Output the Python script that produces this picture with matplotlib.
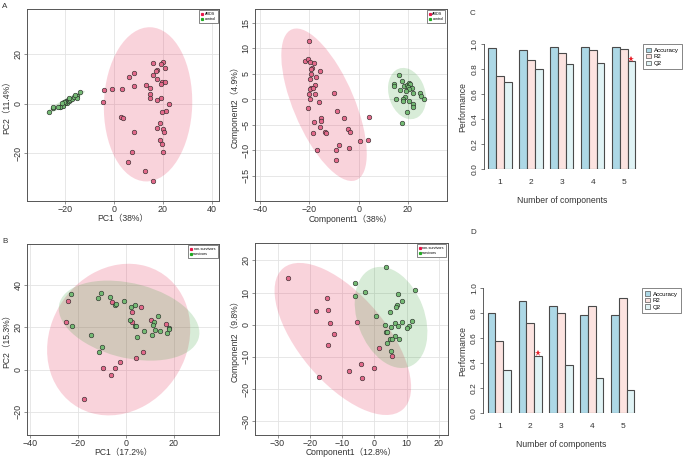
import matplotlib
matplotlib.use('Agg')
import matplotlib.pyplot as plt
from matplotlib.patches import Ellipse, Patch
from matplotlib.lines import Line2D
import numpy as np

plt.rcParams['font.family'] = ['Liberation Sans', 'Noto Sans CJK SC']

# ---- panel A: PCA ARDS vs control
ards_pca_x = [15.9, 19.9, 19.2, 21.0, 17.6, 17.3, 16.1, 17.4, 8.3, 6.3, 19.6, 21.0, 19.3, 13.1, 8.2,
              14.6, -4.2, -1.0, 3.1, 14.8, 14.8, 19.3, 17.7, -4.4, 22.3, 21.1, 19.7, 3.0, 3.7, 18.8,
              17.6, 20.0, 20.3, 8.3, 18.8, 19.5, 20.0, 7.2, 5.6, 12.7, 16.1]
ards_pca_y = [16.4, 17.0, 16.0, 14.3, 13.6, 13.3, 11.7, 10.0, 12.4, 10.8, 9.0, 8.8, 8.0, 7.7, 7.3,
              6.5, 5.5, 5.9, 5.9, 3.9, 2.3, 2.3, 1.6, 0.8, -0.1, -2.8, -3.2, -5.3, -5.5, -7.8,
              -9.7, -10.2, -11.2, -11.2, -14.6, -16.3, -19.5, -19.4, -23.6, -27.0, -31.1]
ctrl_pca_x = [-26.8, -25.0, -24.8, -22.0, -21.4, -20.7, -20.0, -19.6, -19.3, -18.9, -18.4, -18.0, -20.1,
              -21.0, -22.3, -17.3, -16.3, -15.2, -15.2, -14.1, -15.8, -18.6, -20.4, -21.4, -23.1]
ctrl_pca_y = [-3.4, -1.8, -1.1, -1.1, -0.8, -0.4, 0.9, 1.3, 0.3, 1.6, 1.2, 1.6, 0.3,
              -0.8, -1.3, 1.9, 2.7, 3.0, 2.2, 4.6, 3.6, 2.3, 0.9, 0.3, -1.1]

# ---- panel A right: PLS-DA ARDS vs control
ards_pls_x = [-20.3, -21.8, -20.7, -19.8, -18.3, -19.1, -19.5, -15.6, -19.2, -17.2, -19.8, -17.6, -19.2,
              -19.9, -18.7, -20.1, -17.9, -10.0, -19.8, -16.3, -20.5, -8.7, -15.2, -15.4, -18.0, -6.1,
              4.1, -15.7, -4.2, -3.5, -13.6, -13.1, -18.6, 0.4, 3.8, -8.0, -3.8, -9.2, -17.1, -9.2]
ards_pls_y = [11.5, 7.5, 7.8, 7.3, 7.0, 6.2, 6.0, 5.6, 4.9, 4.4, 3.9, 2.7, 2.2,
              2.0, 2.1, 1.1, 1.0, 1.2, 0.1, -0.5, -1.8, -2.3, -3.7, -4.3, -4.4, -3.8,
              -3.6, -5.4, -5.8, -6.5, -6.5, -6.6, -6.7, -8.3, -8.0, -9.0, -9.6, -9.9, -9.9, -11.9]
ctrl_pls_x = [16.4, 17.6, 14.2, 14.4, 18.4, 19.5, 20.5, 20.9, 20.2, 21.5, 20.6, 22.2, 19.1,
              18.9, 17.9, 15.3, 17.9, 20.3, 21.9, 22.2, 25.1, 25.4, 26.7, 19.6, 17.8, 16.8]
ctrl_pls_y = [4.7, 3.5, 2.9, 2.6, 2.6, 2.7, 3.1, 3.0, 2.4, 2.2, 1.9, 1.2, 1.6,
              0.5, 0.1, 0.1, -0.4, -0.3, -0.9, -1.5, 1.2, 0.7, 0.0, -2.6, -4.6, 1.8]

# ---- panel B: PCA non-survivors vs survivors
nons_pca_x = [-24.2, -24.8, -5.8, 2.6, 6.1, 2.6, 10.5, 16.7, 7.3, 4.1, -2.4, -4.6, -9.5, -6.2, -17.4]
nons_pca_y = [32.5, 22.6, 32.0, 27.0, 29.4, 22.6, 23.2, 21.7, 8.2, 5.3, 3.5, 0.6, 0.5, -2.4, -14.1]
surv_pca_x = [-22.7, -22.5, -10.4, -11.5, -6.5, -4.7, -4.0, -0.6, 2.2, 3.7, 1.8, 3.9, 4.3, 7.6,
              4.8, 11.5, 11.2, 13.4, 11.9, 14.2, 10.8, 17.0, 18.1, 18.1, -14.4, -10.1, -11.2]
surv_pca_y = [35.6, 20.6, 36.1, 33.9, 34.5, 30.5, 30.9, 32.2, 29.5, 30.3, 23.2, 20.6, 20.4, 18.1,
              15.2, 22.6, 21.2, 25.1, 18.7, 18.1, 16.5, 17.1, 19.8, 19.0, 16.2, 10.5, 8.3]

# ---- panel B right: PLS-DA non-survivors vs survivors
nons_pls_x = [-26.7, -14.8, -18.2, -14.5, -13.7, -5.5, -12.5, -14.3, 1.3, 5.6, -17.3, -8.0, -4.1, -3.7, -0.1]
nons_pls_y = [14.6, 8.2, 4.3, 4.6, 0.4, 0.7, -2.8, -6.3, -7.2, -9.8, -16.4, -14.4, -12.2, -16.6, -13.6]
surv_pls_x = [3.5, -6.0, 12.7, -2.9, -6.0, 7.2, 8.7, 6.9, 6.7, 4.9, 0.4, 11.8, 8.5, 6.3,
              3.3, 7.2, 5.1, 10.8, 10.1, 3.6, 3.9, 6.3, 4.9, 5.6, 7.5, 3.8, 5.2]
surv_pls_y = [18.0, 12.9, 10.7, 10.3, 9.0, 9.4, 7.4, 6.1, 5.5, 4.1, 2.7, 1.2, 0.8, 0.6,
              -0.1, -0.3, -0.6, -0.4, -0.9, -2.3, -2.2, -3.6, -4.3, -4.6, -4.5, -5.7, -8.1]

# ---- panels C / D: performance
n_comp = [1, 2, 3, 4, 5]
acc_c = [0.968, 0.955, 0.976, 0.976, 0.976]
r2_c = [0.744, 0.877, 0.928, 0.952, 0.965]
q2_c = [0.701, 0.805, 0.840, 0.848, 0.864]
best_c = 5
acc_d = [0.798, 0.899, 0.859, 0.782, 0.782]
r2_d = [0.574, 0.723, 0.798, 0.856, 0.918]
q2_d = [0.343, 0.460, 0.383, 0.282, 0.184]
best_d = 2

RED_PT, GREEN_PT = '#E2698A', '#74BA74'
RED_EL, GREEN_EL = '#E8385F', '#3CA03C'
RED_LG, GREEN_LG = '#E8174A', '#22AA22'


def conf_ellipse(ax, x, y, color, alpha):
    x = np.asarray(x)
    y = np.asarray(y)
    vals, vecs = np.linalg.eigh(np.cov(x, y))
    vals, vecs = vals[::-1], vecs[:, ::-1]
    ang = np.degrees(np.arctan2(vecs[1, 0], vecs[0, 0]))
    r = np.sqrt(5.991)
    ax.add_patch(Ellipse((x.mean(), y.mean()), 2 * r * np.sqrt(vals[0]), 2 * r * np.sqrt(vals[1]),
                         angle=ang, facecolor=color, alpha=alpha, edgecolor='none', zorder=1))


def scatter_panel(ax, g1, g2, names, xlabel, ylabel, xlim, ylim, xticks, yticks):
    conf_ellipse(ax, g1[0], g1[1], RED_EL, 0.22)
    conf_ellipse(ax, g2[0], g2[1], GREEN_EL, 0.2)
    ax.scatter(g1[0], g1[1], s=11, facecolor=RED_PT, edgecolor='#222', lw=0.4, zorder=3)
    ax.scatter(g2[0], g2[1], s=11, facecolor=GREEN_PT, edgecolor='#222', lw=0.4, zorder=3)
    ax.set_xlim(xlim)
    ax.set_ylim(ylim)
    ax.set_xticks(xticks)
    ax.set_yticks(yticks)
    ax.grid(True, color='#E3E3E3', lw=0.6)
    ax.set_axisbelow(True)
    for s in ax.spines.values():
        s.set_color('#555')
        s.set_linewidth(0.7)
    ax.tick_params(length=2, width=0.5, color='#666', labelsize=6.4, labelcolor='#333', pad=1.2)
    for t in ax.get_yticklabels():
        t.set_rotation(90)
        t.set_va('center')
    ax.set_xlabel(xlabel, fontsize=6.2, color='#333', labelpad=0)
    ax.set_ylabel(ylabel, fontsize=6.2, color='#333', labelpad=1.5)
    hs = [Line2D([], [], marker='s', ls='', color=RED_LG, markersize=1.3, label=names[0]),
          Line2D([], [], marker='s', ls='', color=GREEN_LG, markersize=1.3, label=names[1])]
    lg = ax.legend(handles=hs, loc='upper right', fontsize=2.7, fancybox=False, edgecolor='#555',
                   framealpha=1, borderpad=0.5, handletextpad=0.3, handlelength=0.6,
                   borderaxespad=0.35, labelspacing=0.3)
    lg.get_frame().set_linewidth(0.5)


def perf_panel(ax, acc, r2, q2, best):
    pos = 2.5 + 4 * (np.asarray(n_comp) - 1)
    kw = dict(width=1, edgecolor='#4a4a4a', lw=0.8)
    ax.bar(pos - 1, acc, color='#ADD8E6', **kw)
    ax.bar(pos, r2, color='#FCE3E0', **kw)
    ax.bar(pos + 1, q2, color='#E0F3F5', **kw)
    i = n_comp.index(best)
    ax.plot(pos[i] + 1, q2[i] + 0.02, marker='*', color='#E8202A', ms=4.5, mew=0, clip_on=False)
    ax.set_xlim(0.4, 20.6)
    ax.set_ylim(0, 1)
    for s in ['top', 'right', 'bottom']:
        ax.spines[s].set_visible(False)
    ax.spines['left'].set_color('#444')
    ax.spines['left'].set_linewidth(0.6)
    ax.spines['left'].set_bounds(0, 1)
    ax.set_yticks(np.arange(0, 1.01, 0.2))
    ax.set_yticklabels([f'{v:.1f}' for v in np.arange(0, 1.01, 0.2)])
    ax.set_xticks(pos)
    ax.set_xticklabels([str(n) for n in n_comp])
    ax.tick_params(axis='y', length=2.5, width=0.5, color='#444', labelsize=6, labelcolor='#333', pad=1.2)
    ax.tick_params(axis='x', length=0, labelsize=6, labelcolor='#333', pad=7)
    for t in ax.get_yticklabels():
        t.set_rotation(90)
        t.set_va('center')
    ax.set_xlabel('Number of components', fontsize=6.2, color='#333', labelpad=7)
    ax.set_ylabel('Performance', fontsize=6.2, color='#333', labelpad=3)
    hs = [Patch(facecolor='#ADD8E6', edgecolor='#555', lw=0.5, label='Accuracy'),
          Patch(facecolor='#FCE3E0', edgecolor='#555', lw=0.5, label='R2'),
          Patch(facecolor='#E0F3F5', edgecolor='#555', lw=0.5, label='Q2')]
    lg = ax.legend(handles=hs, loc='upper left', bbox_to_anchor=(1.02, 1.0), fontsize=4.4,
                   fancybox=False, edgecolor='#555', framealpha=1, borderpad=0.55,
                   handlelength=0.7, handleheight=0.7, handletextpad=0.5, labelspacing=0.2,
                   borderaxespad=0)
    lg.get_frame().set_linewidth(0.5)


fig = plt.figure(figsize=(6.85, 4.59), dpi=100)

ax_a1 = fig.add_axes([0.0394, 0.5621, 0.2803, 0.4183])
scatter_panel(ax_a1, (ards_pca_x, ards_pca_y), (ctrl_pca_x, ctrl_pca_y), ['ARDS', 'control'],
              'PC1（38%）', 'PC2（11.4%）', (-35.6, 42.9), (-39.2, 38.3), [-20, 0, 20, 40], [-20, 0, 20])

ax_a2 = fig.add_axes([0.3723, 0.5621, 0.2799, 0.4183])
scatter_panel(ax_a2, (ards_pls_x, ards_pls_y), (ctrl_pls_x, ctrl_pls_y), ['ARDS', 'control'],
              'Component1（38%）', 'Component2（4.9%）', (-42.1, 35.8), (-20.0, 17.7),
              [-40, -20, 0, 20], [-15, -10, -5, 0, 5, 10, 15])

ax_b1 = fig.add_axes([0.0394, 0.0530, 0.2803, 0.4160])
scatter_panel(ax_b1, (nons_pca_x, nons_pca_y), (surv_pca_x, surv_pca_y), ['non-survivors', 'survivors'],
              'PC1（17.2%）', 'PC2（15.3%）', (-41.1, 38.7), (-30.8, 59.5), [-40, -20, 0, 20], [-20, 0, 20, 40])

ax_b2 = fig.add_axes([0.3723, 0.0530, 0.2810, 0.4175])
scatter_panel(ax_b2, (nons_pls_x, nons_pls_y), (surv_pls_x, surv_pls_y), ['non-survivors', 'survivors'],
              'Component1（12.8%）', 'Component2（9.8%）', (-37.0, 22.7), (-34.2, 25.4),
              [-30, -20, -10, 0, 10, 20], [-30, -20, -10, 0, 10, 20])

ax_c = fig.add_axes([0.7063, 0.6312, 0.2279, 0.2723])
perf_panel(ax_c, acc_c, r2_c, q2_c, best_c)

ax_d = fig.add_axes([0.7053, 0.0996, 0.2274, 0.2730])
perf_panel(ax_d, acc_d, r2_d, q2_d, best_d)

for lab, x, y in [('A', 0.003, 0.993), ('B', 0.004, 0.482), ('C', 0.686, 0.978), ('D', 0.686, 0.502)]:
    fig.text(x, y, lab, fontsize=5.8, color='#333', va='top', ha='left')

fig.savefig('out.png', dpi=100)
